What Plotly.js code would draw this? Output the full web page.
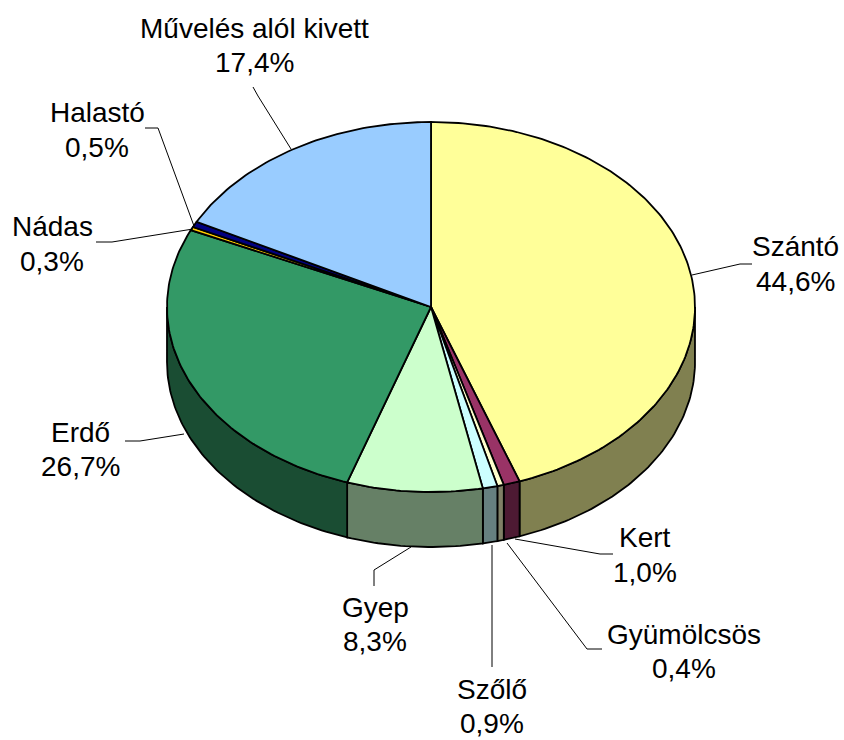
<!DOCTYPE html>
<html>
<head>
<meta charset="utf-8">
<script src="https://cdn.plot.ly/plotly-3.0.1.min.js"></script>
<style>html,body{margin:0;padding:0;background:#fff;}#chart{width:844px;height:740px;}</style>
</head>
<body>
<div id="chart"></div>
<script>
// ---- data ----
const categories = ['Szántó', 'Kert', 'Gyümölcsös', 'Szőlő', 'Gyep', 'Erdő', 'Nádas', 'Halastó', 'Művelés alól kivett'];
const values = [44.6, 1.0, 0.4, 0.9, 8.3, 26.7, 0.3, 0.5, 17.4];
const topColors = ['#FFFF99', '#993366', '#FFFFCC', '#CCFFFF', '#CCFFCC', '#339966', '#FFCC00', '#000080', '#99CCFF'];
const sideColors = ['#808050', '#4D1A33', '#808066', '#668080', '#668066', '#1A4D33', '#806600', '#000040', '#4D6680'];

// ---- geometry (layout) ----
const cx = 431, cy = 307, rx = 264, ry = 185, depth = 55;
// label centres [x, yName, yPct] and leader line paths
const labelPos = [
  [795, 246, 281], [645, 537, 572], [684, 634, 668], [492, 689, 723], [375, 607, 641],
  [80, 432, 466], [52, 226, 261], [97, 112, 147], [254, 28, 62]
];
const leaders = [
  [[752, 264], [740, 264], [692, 275]],
  [[613, 554], [600, 554], [515, 539]],
  [[602, 649], [587, 649], [507, 543]],
  [[492, 667], [492, 545]],
  [[374, 586], [374, 570], [411, 547]],
  [[125, 441], [140, 441], [184, 434]],
  [[96, 242], [112, 242], [193, 229]],
  [[145, 128], [158, 128], [194, 226]],
  [[253, 87], [258, 96], [291, 149]]
];

const total = values.reduce((a, b) => a + b, 0);
const toRad = d => d * Math.PI / 180;
function pt(deg, dy) {
  return [cx + rx * Math.sin(toRad(deg)), cy - ry * Math.cos(toRad(deg)) + (dy || 0)];
}
function arc(a, b, dy) {
  const n = Math.max(2, Math.ceil(Math.abs(b - a) / 1));
  const out = [];
  for (let i = 0; i <= n; i++) out.push(pt(a + (b - a) * i / n, dy));
  return out;
}

const starts = [];
let acc = 0;
values.forEach(v => { starts.push(acc / total * 360); acc += v; });
const ends = values.map((v, i) => starts[i] + v / total * 360);

const traces = [];
// side faces (front half only: 90..270 deg)
values.forEach((v, i) => {
  const a = Math.max(starts[i], 90), b = Math.min(ends[i], 270);
  if (b <= a) return;
  const top = arc(a, b, 0);
  const bot = arc(b, a, depth);
  const poly = top.concat(bot);
  poly.push(top[0]);
  traces.push({
    type: 'scatter', mode: 'lines', fill: 'toself', fillcolor: sideColors[i],
    x: poly.map(p => p[0]), y: poly.map(p => p[1]),
    line: {color: '#000', width: 1.8}, hoverinfo: 'skip', showlegend: false
  });
});
// top faces
values.forEach((v, i) => {
  const poly = [[cx, cy]].concat(arc(starts[i], ends[i], 0));
  poly.push([cx, cy]);
  traces.push({
    type: 'scatter', mode: 'lines', fill: 'toself', fillcolor: topColors[i],
    x: poly.map(p => p[0]), y: poly.map(p => p[1]),
    line: {color: '#000', width: 1.8}, hoverinfo: 'skip', showlegend: false, name: categories[i]
  });
});

const font = {family: 'Liberation Sans, Arial, sans-serif', size: 28, color: '#000'};
const annotations = [];
categories.forEach((c, i) => {
  const p = labelPos[i];
  annotations.push({x: p[0], y: p[1], xref: 'x', yref: 'y', text: c, showarrow: false, font: font, xanchor: 'center', yanchor: 'middle'});
  annotations.push({x: p[0], y: p[2], xref: 'x', yref: 'y', text: values[i].toFixed(1).replace('.', ',') + '%', showarrow: false, font: font, xanchor: 'center', yanchor: 'middle'});
});
const shapes = leaders.map(l => ({
  type: 'path', xref: 'x', yref: 'y',
  path: 'M' + l.map(p => p[0] + ',' + p[1]).join(' L'),
  line: {color: '#000', width: 1}
}));

Plotly.newPlot('chart', traces, {
  width: 844, height: 740,
  margin: {l: 0, r: 0, t: 0, b: 0},
  paper_bgcolor: '#fff', plot_bgcolor: '#fff',
  xaxis: {range: [0, 844], visible: false, fixedrange: true},
  yaxis: {range: [740, 0], visible: false, fixedrange: true},
  showlegend: false,
  annotations: annotations,
  shapes: shapes
}, {staticPlot: true});
</script>
</body>
</html>
